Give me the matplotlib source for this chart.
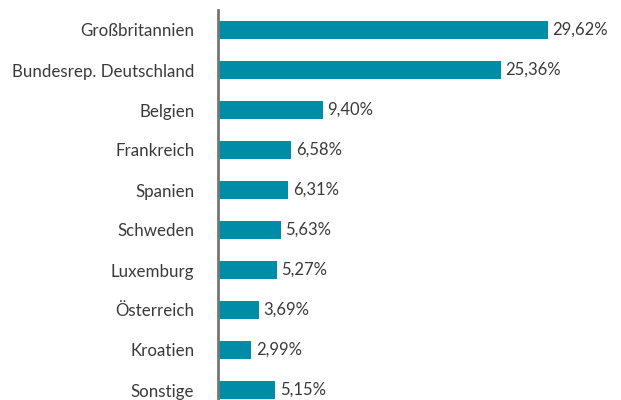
import matplotlib.pyplot as plt

# data
countries = ['Großbritannien', 'Bundesrep. Deutschland', 'Belgien', 'Frankreich',
             'Spanien', 'Schweden', 'Luxemburg', 'Österreich', 'Kroatien', 'Sonstige']
shares = [29.62, 25.36, 9.40, 6.58, 6.31, 5.63, 5.27, 3.69, 2.99, 5.15]

bar_color = '#008BA8'
text_color = '#3a3a3a'

plt.rcParams['font.family'] = ['Lato', 'DejaVu Sans']

fig = plt.figure(figsize=(6.21, 4.0), dpi=100)
ax = fig.add_axes([218 / 621, 0.0, 1 - 218 / 621, 390 / 400])

pos = list(range(len(countries)))
bars = ax.barh(pos, shares, height=0.43, color=bar_color)

for b, v in zip(bars, shares):
    ax.text(b.get_width() + 0.4, b.get_y() + b.get_height() / 2,
            f'{v:.2f}'.replace('.', ',') + '%', va='center', ha='left',
            fontsize=12, color=text_color)

ax.set_yticks(pos)
ax.set_yticklabels(countries, fontsize=12.2, color=text_color)
ax.tick_params(axis='y', length=0, pad=17)
ax.set_xticks([])
ax.set_xlim(0, 403 / 11.14)
ax.set_ylim(9.25, -0.5)

for s in ['top', 'right', 'bottom']:
    ax.spines[s].set_visible(False)
ax.spines['left'].set_color('#767676')
ax.spines['left'].set_linewidth(2)

fig.savefig('out.png', dpi=100)
